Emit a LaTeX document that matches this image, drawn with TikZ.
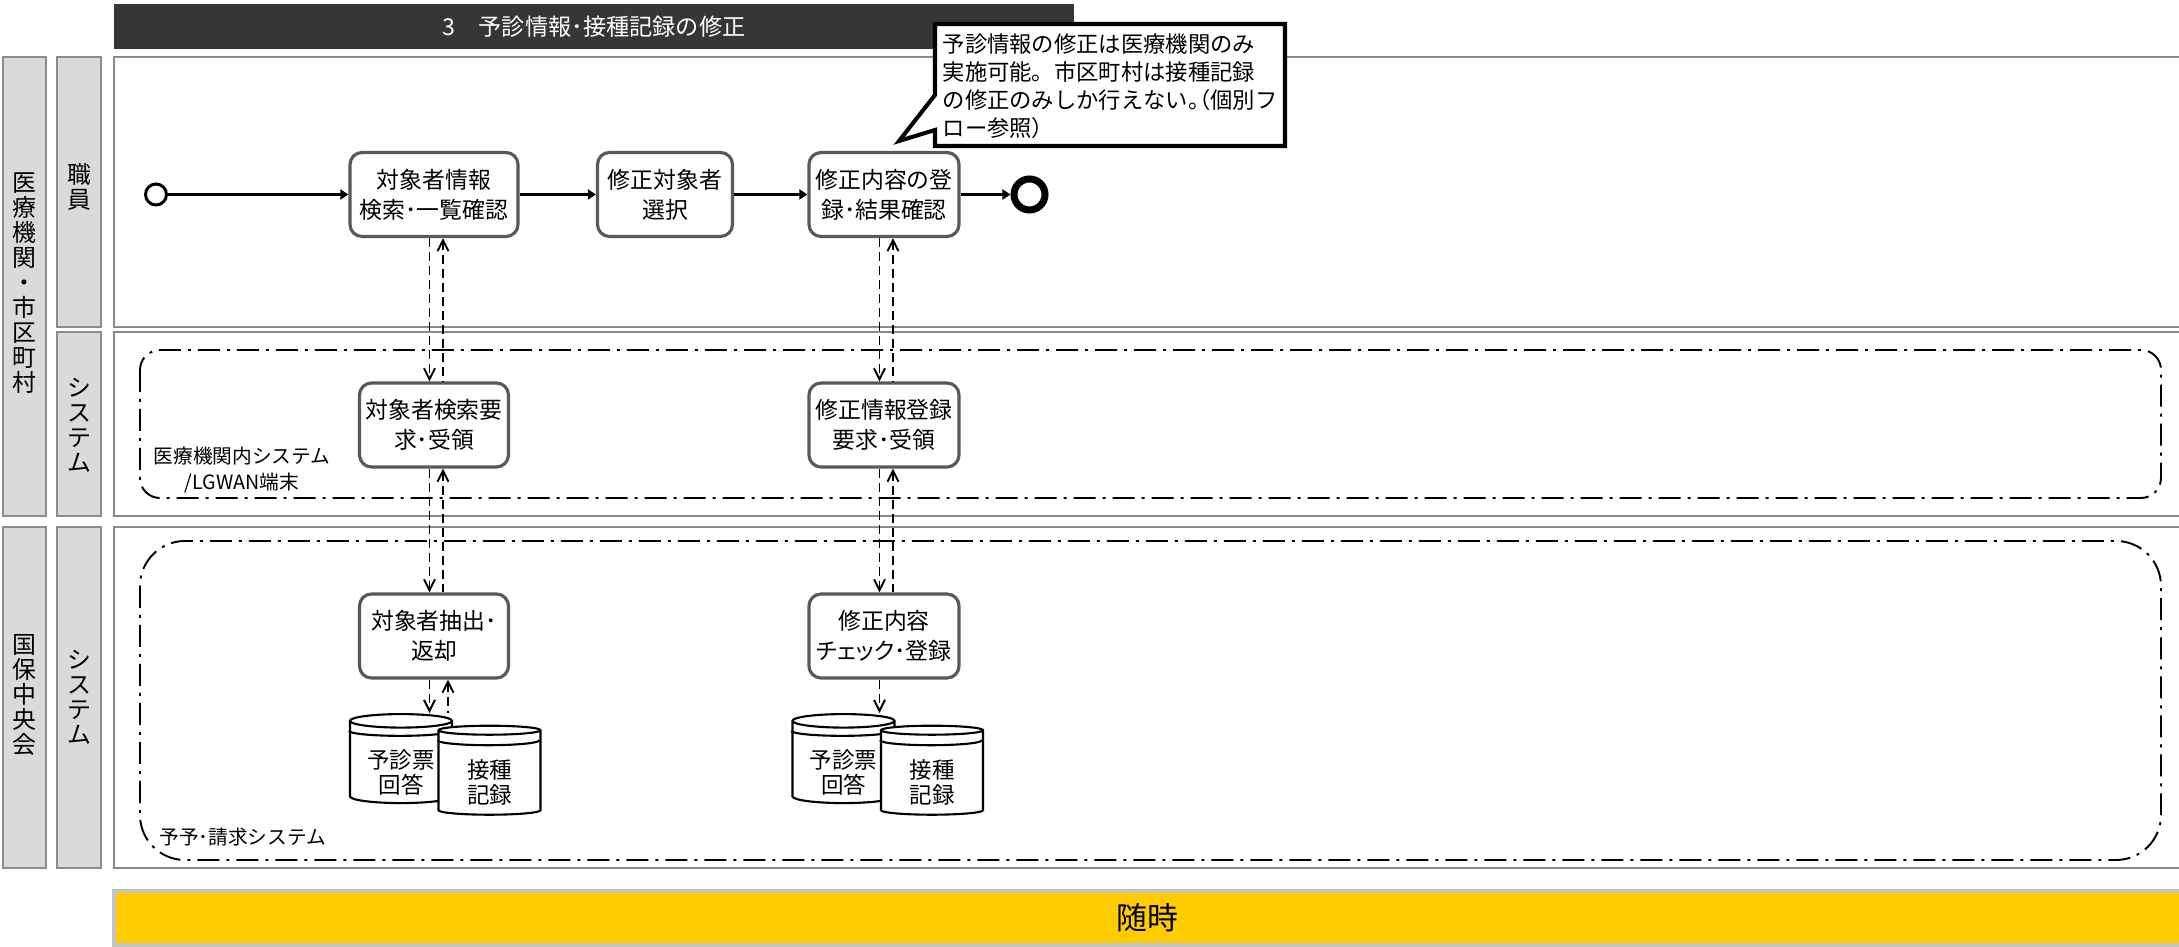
\documentclass[tikz,border=0pt]{standalone}
\usepackage{fontspec}
\setmainfont{Noto Sans CJK JP}
\usetikzlibrary{shapes.geometric,arrows.meta}
\definecolor{titlebar}{HTML}{363636}
\definecolor{lanegray}{HTML}{8C8C8C}
\definecolor{colgray}{HTML}{DADADA}
\definecolor{taskgray}{HTML}{595959}
\definecolor{banner}{HTML}{FFCC00}
\definecolor{bannerline}{HTML}{C4C4C4}

\begin{document}
\begin{tikzpicture}[
    lanebox/.style={draw=lanegray, line width=0.6pt},
    lanecol/.style={lanebox, fill=colgray},
    vlabel/.style={align=center, font=\fontsize{6.8}{7.1}\selectfont},
    task/.style={draw=taskgray, line width=0.9pt, fill=white, rounded corners=0.12cm,
        align=center, inner sep=0pt, minimum height=0.84cm, font=\fontsize{6.5}{8.5}\selectfont},
    store/.style={cylinder, shape border rotate=90, aspect=0.2, draw, fill=white,
        line width=0.6pt, minimum width=1.02cm, minimum height=0.89cm, inner sep=0pt,
        align=center, text height=0.63cm, font=\fontsize{6.4}{7}\selectfont},
    flow/.style={line width=0.6pt, -{Triangle[length=0.08cm,width=0.1cm]}},
    msg/.style={line width=0.55pt, dash pattern=on 0.09cm off 0.05cm,
        >={Straight Barb[length=0.11cm,width=0.11cm]}},
    sysarea/.style={line width=0.55pt, dash pattern=on 0.22cm off 0.07cm on 0.03cm off 0.07cm},
    arealabel/.style={align=center, font=\fontsize{5.6}{7.4}\selectfont}
]
\useasboundingbox (0,0) rectangle (21.79,9.47);

% Title bar
\fill[titlebar] (1.14,9.43) rectangle (10.74,8.98);
\node[text=white, font=\fontsize{6.6}{8}\selectfont] (title) at (5.94,9.205) {3　予診情報･接種記録の修正};

% --- LANES ---
\draw[lanecol] (0.03,8.90) rectangle (0.46,4.31);
\draw[lanecol] (0.03,4.20) rectangle (0.46,0.79);
\draw[lanecol] (0.57,8.90) rectangle (1.01,6.20);
\draw[lanecol] (0.57,6.15) rectangle (1.01,4.31);
\draw[lanecol] (0.57,4.20) rectangle (1.01,0.79);
\draw[lanebox] (1.14,8.90) rectangle (21.95,6.20);
\draw[lanebox] (1.14,6.15) rectangle (21.95,4.31);
\draw[lanebox] (1.14,4.20) rectangle (21.95,0.79);

\node[vlabel] (orgtop) at (0.245,6.64) {医\\療\\機\\関\\・\\市\\区\\町\\村};
\node[vlabel] (orgbot) at (0.245,2.52) {国\\保\\中\\央\\会};
\node[vlabel] (staff) at (0.79,7.6) {職\\員};
\node[vlabel] (sysmid) at (0.79,5.22) {シ\\ス\\テ\\ム};
\node[vlabel] (sysbot) at (0.79,2.50) {シ\\ス\\テ\\ム};

% --- SYSTEM AREAS ---
\draw[sysarea, rounded corners=0.2cm] (1.40,5.97) rectangle (21.61,4.49);
\draw[sysarea, rounded corners=0.45cm] (1.40,4.06) rectangle (21.61,0.87);
\node[arealabel] (lgwan) at (2.42,4.77) {医療機関内システム\\/LGWAN端末};
\node[arealabel, anchor=west] (billing) at (1.47,1.10) {予予･請求システム};

% --- TASKS ---
\node[circle, draw, line width=0.85pt, minimum size=0.21cm, inner sep=0pt] (start) at (1.56,7.525) {};
\node[task, minimum width=1.68cm] (search) at (4.34,7.525) {対象者情報\\検索･一覧確認};
\node[task, minimum width=1.35cm] (select) at (6.65,7.525) {修正対象者\\選択};
\node[task, minimum width=1.50cm] (update) at (8.84,7.525) {修正内容の登\\録･結果確認};
\node[circle, draw, line width=2pt, minimum size=0.31cm, inner sep=0pt] (stop) at (10.295,7.525) {};

\node[task, minimum width=1.49cm] (sreq) at (4.34,5.22) {対象者検索要\\求･受領};
\node[task, minimum width=1.50cm] (ureq) at (8.84,5.22) {修正情報登録\\要求･受領};

\node[task, minimum width=1.49cm] (extract) at (4.34,3.11) {対象者抽出･\\返却};
\node[task, minimum width=1.50cm] (verify) at (8.84,3.11) {修正内容\\{\addfontfeature{RawFeature=+palt}チェック}･登録};

% --- STORES ---
\node[store] (dbq1) at (4.01,1.845) {予診票\\回答};
\draw[line width=0.6pt] ([yshift=-0.1cm]dbq1.before top) arc[start angle=180, end angle=360, x radius=0.51cm, y radius=0.05cm];
\node[store] (dbr1) at (4.895,1.74) {接種\\記録};
\draw[line width=0.6pt] ([yshift=-0.1cm]dbr1.before top) arc[start angle=180, end angle=360, x radius=0.51cm, y radius=0.05cm];
\node[store] (dbq2) at (8.435,1.845) {予診票\\回答};
\draw[line width=0.6pt] ([yshift=-0.1cm]dbq2.before top) arc[start angle=180, end angle=360, x radius=0.51cm, y radius=0.05cm];
\node[store] (dbr2) at (9.32,1.74) {接種\\記録};
\draw[line width=0.6pt] ([yshift=-0.1cm]dbr2.before top) arc[start angle=180, end angle=360, x radius=0.51cm, y radius=0.05cm];

% --- FLOW ---
\draw[flow] (start) -- (search);
\draw[flow] (search) -- (select);
\draw[flow] (select) -- (update);
\draw[flow] (update) -- (stop);

% requests and replies
\draw[msg,->] ([xshift=-0.045cm]search.south) -- ([xshift=-0.045cm]sreq.north);
\draw[msg,<-] ([xshift=0.09cm]search.south) -- ([xshift=0.09cm]sreq.north);
\draw[msg,->] ([xshift=-0.045cm]sreq.south) -- ([xshift=-0.045cm]extract.north);
\draw[msg,<-] ([xshift=0.09cm]sreq.south) -- ([xshift=0.09cm]extract.north);
\draw[msg,->] ([xshift=-0.045cm]extract.south) -- ([xshift=-0.045cm]extract.south |- dbq1.north);
\draw[msg,<-] ([xshift=0.14cm]extract.south) -- ([xshift=0.14cm]extract.south |- dbq1.north);

\draw[msg,->] ([xshift=-0.045cm]update.south) -- ([xshift=-0.045cm]ureq.north);
\draw[msg,<-] ([xshift=0.09cm]update.south) -- ([xshift=0.09cm]ureq.north);
\draw[msg,->] ([xshift=-0.045cm]ureq.south) -- ([xshift=-0.045cm]verify.north);
\draw[msg,<-] ([xshift=0.09cm]ureq.south) -- ([xshift=0.09cm]verify.north);
\draw[msg,->] ([xshift=-0.045cm]verify.south) -- ([xshift=-0.045cm]verify.south |- dbq2.north);

% --- NOTE ---
\draw[line width=1.15pt, fill=white] (9.35,9.23) -- (12.85,9.23) -- (12.85,8.01) -- (9.35,8.01)
    -- (9.35,8.17) -- (8.99,8.06) -- (9.35,8.52) -- cycle;
\node[anchor=west, align=left, inner sep=0pt, font=\fontsize{6.35}{7.97}\selectfont] (note) at (9.42,8.605)
    {予診情報の修正は医療機関のみ\\実施可能。市区町村は接種記録\\の修正のみしか行えない{\addfontfeature{RawFeature=+halt}。（}個別フ\\ロー参照）};

% --- TIMING ---
\draw[draw=bannerline, fill=banner, line width=0.9pt] (1.14,0.56) rectangle (21.95,0.02);
\node[font=\fontsize{8.8}{10}\selectfont] (timing) at (11.47,0.29) {随時};
\end{tikzpicture}
\end{document}
